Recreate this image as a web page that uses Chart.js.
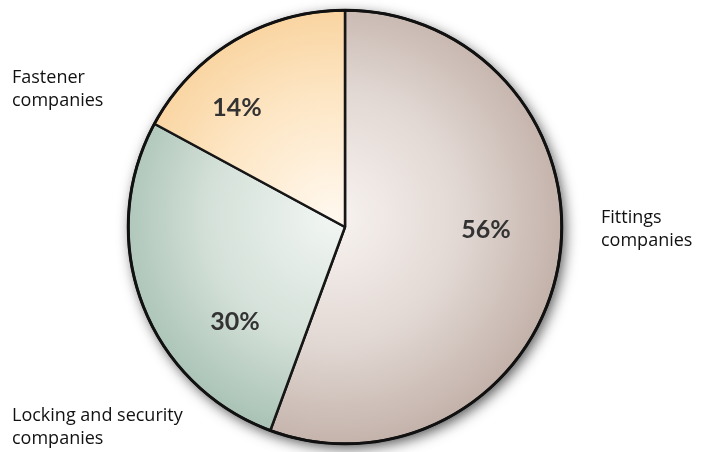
<!DOCTYPE html>
<html lang="en">
<head>
<meta charset="UTF-8">
<title>Companies by sector</title>
<script src="https://cdn.jsdelivr.net/npm/chart.js@4/dist/chart.umd.min.js"></script>
<style>
  html, body { margin: 0; padding: 0; background: #fff; }
  #wrap { position: relative; width: 714px; height: 452px; }
</style>
</head>
<body>
<div id="wrap"><canvas id="pie"></canvas></div>
<script>
// Slice sizes (angles), printed labels kept separately
const sectors = ['Fittings companies', 'Locking and security companies', 'Fastener companies'];
const shares = [55.6, 27.3, 17.1];
const pctLabels = ['56%', '30%', '14%'];
const outerLabels = [['Fittings', 'companies'], ['Locking and security', 'companies'], ['Fastener', 'companies']];

// gradient stops per slice: centre tint -> rim tint
const innerTints = ['#f8f3f1', '#f2f6f3', '#fff8ee'];
const midTints = ['#e2d8d3', '#d3e0d8', '#fde5c2'];
const rimTints = ['#c3b2aa', '#a5bfb2', '#f8cf96'];

const BORDER = 2.5;

function pieGeom(chart) {
  const a = chart.chartArea;
  const cx = (a.left + a.right) / 2;
  const cy = (a.top + a.bottom) / 2;
  const r = Math.max((Math.min(a.right - a.left, a.bottom - a.top) - BORDER) / 2, 1);
  return { cx, cy, r };
}

function sliceFill(ctx) {
  const chart = ctx.chart;
  const i = ctx.dataIndex;
  const a = chart.chartArea;
  if (!a || !isFinite(a.left) || !isFinite(a.top)) return rimTints[i];
  const { cx, cy, r } = pieGeom(chart);
  const g = chart.ctx.createRadialGradient(cx - 12, cy - 10, 0, cx - 12, cy - 10, r + 14);
  g.addColorStop(0, innerTints[i]);
  g.addColorStop(0.55, midTints[i]);
  g.addColorStop(1, rimTints[i]);
  return g;
}

// soft shadow under the disc
const discShadow = {
  id: 'discShadow',
  beforeDatasetsDraw(chart) {
    const { cx, cy, r } = pieGeom(chart);
    const c = chart.ctx;
    c.save();
    c.shadowColor = 'rgba(0,0,0,0.7)';
    c.shadowBlur = 14;
    c.shadowOffsetX = 3;
    c.shadowOffsetY = 4;
    c.fillStyle = '#888';
    c.beginPath();
    c.arc(cx, cy, r, 0, Math.PI * 2);
    c.fill();
    c.restore();
  },
  afterDatasetsDraw(chart) {
    // slightly heavier rim, as in the original
    const { cx, cy, r } = pieGeom(chart);
    const c = chart.ctx;
    c.save();
    c.strokeStyle = '#111';
    c.lineWidth = 3;
    c.beginPath();
    c.arc(cx, cy, r, 0, Math.PI * 2);
    c.stroke();
    c.restore();
  }
};

// percentages inside the slices and the sector names outside
const labelsPlugin = {
  id: 'sliceLabels',
  afterDatasetsDraw(chart) {
    const { cx, cy, r } = pieGeom(chart);
    const c = chart.ctx;
    // offsets of each percentage label from the centre, in radius units
    const pctPos = [[0.65, 0.014], [-0.507, 0.438], [-0.498, -0.548]];
    c.save();
    c.font = 'bold 25px Lato, "DejaVu Sans", sans-serif';
    c.fillStyle = '#333333';
    c.textAlign = 'center';
    c.textBaseline = 'middle';
    pctLabels.forEach((t, i) => {
      c.fillText(t, cx + pctPos[i][0] * r, cy + pctPos[i][1] * r);
    });

    c.font = '18px "Open Sans", sans-serif';
    c.fillStyle = '#111111';
    c.textAlign = 'left';
    c.textBaseline = 'alphabetic';
    // baseline of first line for each name block
    const namePos = [[601, 223], [12, 421], [12, 83]];
    outerLabels.forEach((lines, i) => {
      lines.forEach((ln, j) => c.fillText(ln, namePos[i][0], namePos[i][1] + j * 22.5));
    });
    c.restore();
  }
};

new Chart(document.getElementById('pie'), {
  type: 'pie',
  data: {
    labels: sectors,
    datasets: [{
      data: shares,
      backgroundColor: sliceFill,
      borderColor: '#161616',
      borderWidth: BORDER
    }]
  },
  options: {
    responsive: true,
    maintainAspectRatio: false,
    animation: false,
    layout: { padding: { left: 127, right: 151, top: 9, bottom: 7 } },
    plugins: {
      legend: { display: false },
      tooltip: { enabled: false }
    }
  },
  plugins: [discShadow, labelsPlugin]
});
</script>
</body>
</html>
